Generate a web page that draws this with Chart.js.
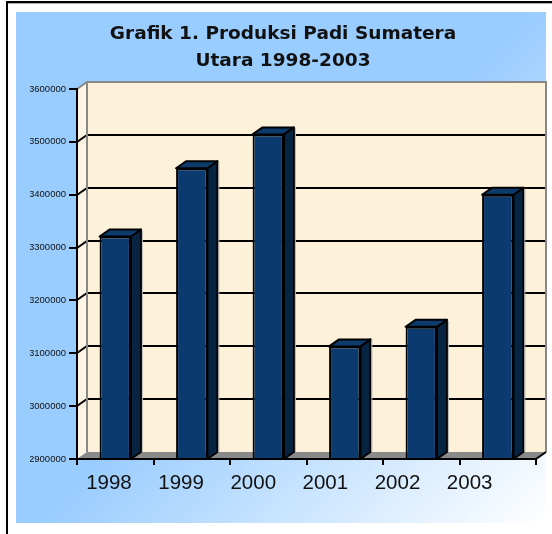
<!DOCTYPE html>
<html>
<head>
<meta charset="utf-8">
<script src="https://cdn.jsdelivr.net/npm/chart.js@4"></script>
<style>
  html, body { margin: 0; padding: 0; background: #fff; }
  #wrap { width: 552px; height: 534px; position: relative; }
</style>
</head>
<body>
<div id="wrap"><canvas id="chart"></canvas></div>
<script>
const years = ['1998', '1999', '2000', '2001', '2002', '2003'];
const produksi = [3321000, 3450000, 3514000, 3113000, 3150000, 3400000];
const yTicks = [2900000, 3000000, 3100000, 3200000, 3300000, 3400000, 3500000, 3600000];

// depth of the fake 3D walls and bars
const DX = 10, DY = -7;

const backdrop = {
  id: 'backdrop',
  beforeDraw(chart) {
    const ctx = chart.ctx;
    const {left, right, top, bottom} = chart.chartArea;
    ctx.save();
    ctx.fillStyle = '#fff';
    ctx.fillRect(0, 0, chart.width, chart.height);

    // outer frame
    ctx.fillStyle = '#000';
    ctx.fillRect(6, 1, 2, chart.height);
    ctx.fillRect(6, 1, chart.width, 2);
    ctx.fillStyle = '#aaa';
    ctx.fillRect(8, 3, chart.width, 1);

    // blue panel
    const g = ctx.createLinearGradient(281, 268, 546, 523);
    g.addColorStop(0, '#99ccff');
    g.addColorStop(1, '#ffffff');
    ctx.fillStyle = g;
    ctx.fillRect(16, 12, 530, 511);

    // left wall
    ctx.fillStyle = '#fef5e6';
    ctx.beginPath();
    ctx.moveTo(left, top);
    ctx.lineTo(left + DX, top + DY);
    ctx.lineTo(left + DX, bottom + DY);
    ctx.lineTo(left, bottom);
    ctx.closePath();
    ctx.fill();

    // back wall
    ctx.fillStyle = '#fdf1da';
    ctx.fillRect(left + DX, top + DY, right - left, bottom - top);

    // floor
    ctx.fillStyle = '#8a8a8a';
    ctx.beginPath();
    ctx.moveTo(left, bottom);
    ctx.lineTo(right, bottom);
    ctx.lineTo(right + DX, bottom + DY);
    ctx.lineTo(left + DX, bottom + DY);
    ctx.closePath();
    ctx.fill();

    // grid lines on the walls
    const ys = chart.scales.y;
    ctx.strokeStyle = '#000';
    ctx.lineWidth = 2;
    ys.ticks.forEach(t => {
      if (t.value <= ys.min || t.value >= ys.max) return;
      const py = Math.round(ys.getPixelForValue(t.value));
      ctx.beginPath();
      ctx.moveTo(left, py);
      ctx.lineTo(left + DX, py + DY);
      ctx.lineTo(right + DX, py + DY);
      ctx.stroke();
    });

    // wall outlines
    ctx.strokeStyle = '#888';
    ctx.beginPath();
    ctx.moveTo(left, top);
    ctx.lineTo(left + DX, top + DY);
    ctx.lineTo(right + DX, top + DY);
    ctx.lineTo(right + DX, bottom + DY);
    ctx.moveTo(left + DX, top + DY);
    ctx.lineTo(left + DX, bottom + DY);
    ctx.stroke();
    ctx.strokeStyle = '#000';
    ctx.beginPath();
    ctx.moveTo(right, bottom);
    ctx.lineTo(right + DX, bottom + DY);
    ctx.stroke();
    ctx.restore();
  }
};

const bars3d = {
  id: 'bars3d',
  afterDatasetsDraw(chart) {
    const ctx = chart.ctx;
    const floor = chart.chartArea.bottom;
    ctx.save();
    ctx.lineJoin = 'round';
    chart.getDatasetMeta(0).data.forEach(bar => {
      const {x, y, width} = bar.getProps(['x', 'y', 'width'], true);
      const base = floor;
      const l = x - width / 2, r = x + width / 2;
      // side face
      ctx.fillStyle = '#082443';
      ctx.beginPath();
      ctx.moveTo(r, y);
      ctx.lineTo(r + DX, y + DY);
      ctx.lineTo(r + DX, base + DY);
      ctx.lineTo(r, base);
      ctx.closePath();
      ctx.fill();
      ctx.strokeStyle = '#000';
      ctx.lineWidth = 2;
      ctx.stroke();
      // top face
      ctx.fillStyle = '#0d3b6c';
      ctx.beginPath();
      ctx.moveTo(l, y);
      ctx.lineTo(l + DX, y + DY);
      ctx.lineTo(r + DX, y + DY);
      ctx.lineTo(r, y);
      ctx.closePath();
      ctx.fill();
      ctx.stroke();
      // light edge
      ctx.strokeStyle = '#b8b8b8';
      ctx.lineWidth = 1;
      ctx.beginPath();
      ctx.moveTo(r + DX + 1.5, y + DY + 1);
      ctx.lineTo(r + DX + 1.5, base + DY);
      ctx.stroke();
    });
    ctx.restore();
  }
};

new Chart(document.getElementById('chart'), {
  type: 'bar',
  data: {
    labels: years,
    datasets: [{
      data: produksi,
      base: 2900000,
      backgroundColor: '#0b3a6e',
      borderColor: '#000',
      borderWidth: 2,
      barPercentage: 0.41,
      categoryPercentage: 1
    }]
  },
  options: {
    responsive: true,
    maintainAspectRatio: false,
    animation: false,
    layout: { padding: { left: 30, right: 16, top: 0, bottom: 0 } },
    plugins: {
      legend: { display: false },
      tooltip: { enabled: false },
      title: {
        display: true,
        text: ['Grafik 1. Produksi Padi Sumatera', 'Utara 1998-2003'],
        color: '#111',
        font: { family: 'DejaVu Sans', size: 18.5, weight: 'bold', lineHeight: 1.44 },
        padding: { top: 21, bottom: 14.7 }
      }
    },
    scales: {
      x: {
        type: 'category',
        weight: 0,
        grid: { offset: true, drawOnChartArea: false, color: '#000', lineWidth: 2, tickLength: 6 },
        border: { color: '#000', width: 2 },
        ticks: { display: false },
        afterFit: s => { s.height = 0; }
      },
      xLabels: {
        type: 'linear',
        position: 'bottom',
        weight: 1,
        offset: false,
        min: -0.443,
        max: 5.92,
        afterBuildTicks: s => { s.ticks = years.map((yr, i) => ({ value: i })); },
        ticks: {
          callback: v => years[v],
          autoSkip: false,
          maxRotation: 0,
          padding: 12,
          color: '#111',
          font: { family: 'Liberation Sans', size: 20.5 }
        },
        grid: { display: false, drawTicks: false, tickLength: 0 },
        border: { display: false },
        afterFit: s => { s.height = 75; }
      },
      y: {
        min: 2900000,
        max: 3600000,
        afterBuildTicks: s => { s.ticks = yTicks.map(v => ({ value: v })); },
        ticks: {
          callback: v => String(v),
          padding: 3,
          color: '#111',
          font: { family: 'Liberation Sans', size: 9.5 }
        },
        grid: { drawOnChartArea: false, color: '#000', lineWidth: 2, tickLength: 8 },
        border: { color: '#000', width: 2 },
        afterFit: s => { s.width = 47; }
      }
    }
  },
  plugins: [backdrop, bars3d]
});
</script>
</body>
</html>
